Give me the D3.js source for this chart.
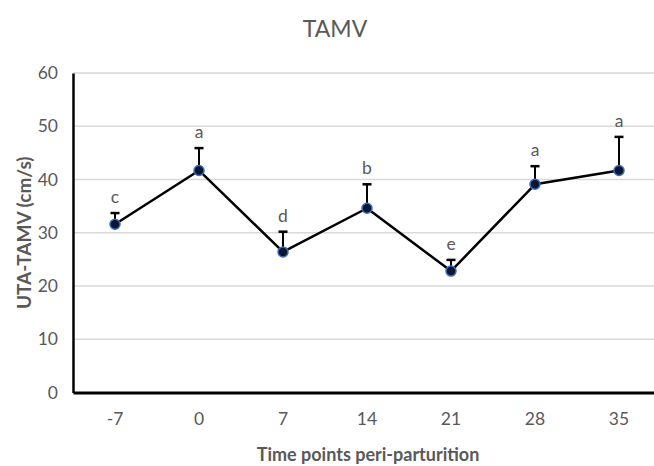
<!DOCTYPE html>
<html>
<head>
<meta charset="utf-8">
<script src="https://cdn.jsdelivr.net/npm/d3@7"></script>
<style>
  html, body { margin: 0; padding: 0; background: #fff; }
  svg { display: block; font-family: Lato, "Open Sans", sans-serif; }
</style>
</head>
<body>
<svg id="chart" width="654" height="466"></svg>
<script>
// Time points (days relative to parturition)
const timePoints = ["-7", "0", "7", "14", "21", "28", "35"];
// Mean UTA-TAMV (cm/s)
const meanTAMV = [31.6, 41.7, 26.4, 34.6, 22.8, 39.1, 41.7];
// Upper error (SE) for each mean
const errTAMV = [2.1, 4.2, 3.8, 4.5, 2.1, 3.4, 6.3];
// Significance letters
const sigLetters = ["c", "a", "d", "b", "e", "a", "a"];
// Y axis ticks
const yTicks = [0, 10, 20, 30, 40, 50, 60];

const svg = d3.select("#chart");
const margin = { top: 73, left: 73, bottom: 74, right: -7 };
const W = 654, H = 466;

const x = d3.scaleBand()
  .domain(timePoints)
  .range([margin.left, W - margin.right])
  .padding(0);

const y = d3.scaleLinear()
  .domain([0, 60])
  .range([H - margin.bottom + 0.5, margin.top]);

const textGrey = "#595959";

// Gridlines
svg.append("g")
  .selectAll("line")
  .data(yTicks.filter(d => d > 0))
  .join("line")
  .attr("x1", margin.left)
  .attr("x2", W)
  .attr("y1", d => y(d))
  .attr("y2", d => y(d))
  .attr("stroke", "#d9d9d9")
  .attr("stroke-width", 1.5);

// Y axis
const yAxis = svg.append("g")
  .attr("transform", `translate(${margin.left},0)`)
  .call(d3.axisLeft(y).tickValues(yTicks).tickSize(0).tickPadding(15));
yAxis.select(".domain").attr("stroke", "#000").attr("stroke-width", 2.5);
yAxis.selectAll("text").attr("fill", textGrey).style("font-size", "17.5px")
  .style("font-family", "Lato, 'Open Sans', sans-serif");

// X axis
const xAxis = svg.append("g")
  .attr("transform", `translate(0,${y(0)})`)
  .call(d3.axisBottom(x).tickSize(0).tickPadding(20));
xAxis.select(".domain").attr("stroke", "#000").attr("stroke-width", 3);
xAxis.selectAll("text").attr("fill", textGrey).style("font-size", "17.5px")
  .style("font-family", "Lato, 'Open Sans', sans-serif");

const cx = d => x(d) + x.bandwidth() / 2;
const rows = timePoints.map((t, i) => ({ t, v: meanTAMV[i], e: errTAMV[i], s: sigLetters[i] }));

// Error bars (upper only)
const eb = svg.append("g").attr("stroke", "#000").attr("stroke-width", 2);
eb.selectAll("line.stem").data(rows).join("line")
  .attr("class", "stem")
  .attr("x1", d => cx(d.t)).attr("x2", d => cx(d.t))
  .attr("y1", d => y(d.v)).attr("y2", d => y(d.v + d.e));
eb.selectAll("line.cap").data(rows).join("line")
  .attr("class", "cap")
  .attr("x1", d => cx(d.t) - 4.5).attr("x2", d => cx(d.t) + 4.5)
  .attr("y1", d => y(d.v + d.e)).attr("y2", d => y(d.v + d.e))
  .attr("stroke-width", 2.5);

// Mean line
svg.append("path")
  .datum(rows)
  .attr("fill", "none")
  .attr("stroke", "#000")
  .attr("stroke-width", 2.5)
  .attr("stroke-linejoin", "round")
  .attr("d", d3.line().x(d => cx(d.t)).y(d => y(d.v)));

// Markers
svg.append("g").selectAll("circle").data(rows).join("circle")
  .attr("cx", d => cx(d.t))
  .attr("cy", d => y(d.v))
  .attr("r", 5)
  .attr("fill", "#0b1630")
  .attr("stroke", "#3b6cc0")
  .attr("stroke-width", 1.5);

// Significance letters
svg.append("g").selectAll("text").data(rows).join("text")
  .attr("x", d => cx(d.t))
  .attr("y", d => y(d.v + d.e) - 10)
  .attr("text-anchor", "middle")
  .attr("fill", textGrey)
  .style("font-size", "17.5px")
  .text(d => d.s);

// Title
svg.append("text")
  .attr("x", 335).attr("y", 37)
  .attr("text-anchor", "middle")
  .attr("fill", textGrey)
  .style("font-size", "23px")
  .text("TAMV");

// Axis titles
svg.append("text")
  .attr("transform", `translate(31,${(y(0) + y(60)) / 2}) rotate(-90)`)
  .attr("text-anchor", "middle")
  .attr("fill", textGrey)
  .style("font-size", "19px")
  .style("font-weight", "bold")
  .text("UTA-TAMV (cm/s)");

svg.append("text")
  .attr("x", 368).attr("y", 461)
  .attr("text-anchor", "middle")
  .attr("fill", textGrey)
  .style("font-size", "18px")
  .style("font-weight", "bold")
  .text("Time points peri-parturition");
</script>
</body>
</html>
